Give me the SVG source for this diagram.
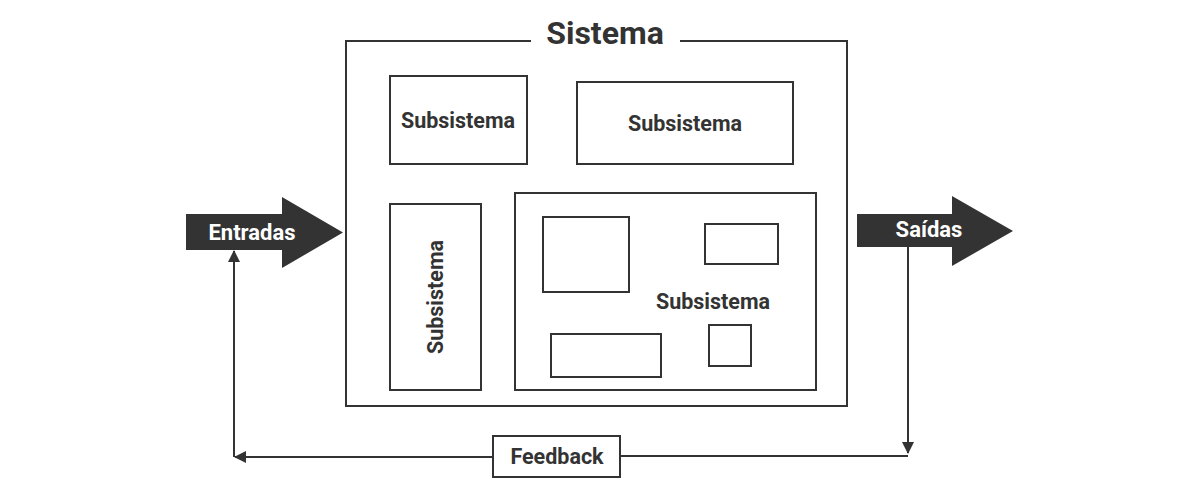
<svg xmlns="http://www.w3.org/2000/svg" width="1200" height="498" viewBox="0 0 1200 498">
<defs>
<style>
.box{fill:#fff;stroke:#333;stroke-width:2}
.lbl{font-family:Roboto,"Liberation Sans",sans-serif;font-weight:bold;fill:#333;text-anchor:middle;font-size:21.5px}
.wl{font-family:Roboto,"Liberation Sans",sans-serif;font-weight:bold;fill:#fff;text-anchor:middle;font-size:22px}
.ln{fill:none;stroke:#333;stroke-width:2}
</style>
<marker id="ah" markerWidth="12" markerHeight="12" refX="11" refY="6" orient="auto" markerUnits="userSpaceOnUse" viewBox="0 0 12 12">
<path d="M0,0 L12,6 L0,12 Z" fill="#333"/>
</marker>
</defs>
<rect width="1200" height="498" fill="#fff"/>
<g id="sistema">
<path class="ln" d="M531,41 H346 V406 H847 V41 H680"/>
<text class="lbl" x="605" y="44" style="font-size:32px">Sistema</text>
</g>
<g id="sub1">
<rect class="box" x="390" y="76" width="137" height="88"/>
<text class="lbl" x="458" y="128">Subsistema</text>
</g>
<g id="sub2">
<rect class="box" x="577" y="82" width="216" height="82"/>
<text class="lbl" x="685" y="131">Subsistema</text>
</g>
<g id="sub3">
<rect class="box" x="390" y="204" width="91" height="186"/>
<text class="lbl" transform="translate(443,297) rotate(-90)" x="0" y="0">Subsistema</text>
</g>
<g id="sub4">
<rect class="box" x="515" y="193" width="301" height="197"/>
<rect class="box" x="543" y="217" width="86" height="75"/>
<rect class="box" x="705" y="224" width="73" height="40"/>
<rect class="box" x="551" y="334" width="110" height="43"/>
<rect class="box" x="709" y="325" width="42" height="41"/>
<text class="lbl" x="713" y="309">Subsistema</text>
</g>
<g id="entradas">
<path d="M186,214 H282 V197 L343,232.5 L282,268 V250 H186 Z" fill="#333"/>
<text class="wl" x="252" y="240">Entradas</text>
</g>
<g id="saidas">
<path d="M857,214 H952 V196 L1013,231 L952,266 V247 H857 Z" fill="#333"/>
<text class="wl" x="929" y="237">Saídas</text>
</g>
<g id="feedback">
<rect class="box" x="493" y="436" width="127" height="41"/>
<text class="lbl" x="557" y="464">Feedback</text>
</g>
<g id="connectors">
<line class="ln" x1="908" y1="247" x2="908" y2="453" marker-end="url(#ah)"/>
<line class="ln" x1="908" y1="456" x2="620" y2="456"/>
<line class="ln" x1="493" y1="457" x2="235" y2="457" marker-end="url(#ah)"/>
<line class="ln" x1="234" y1="457" x2="234" y2="251" marker-end="url(#ah)"/>
</g>
</svg>
